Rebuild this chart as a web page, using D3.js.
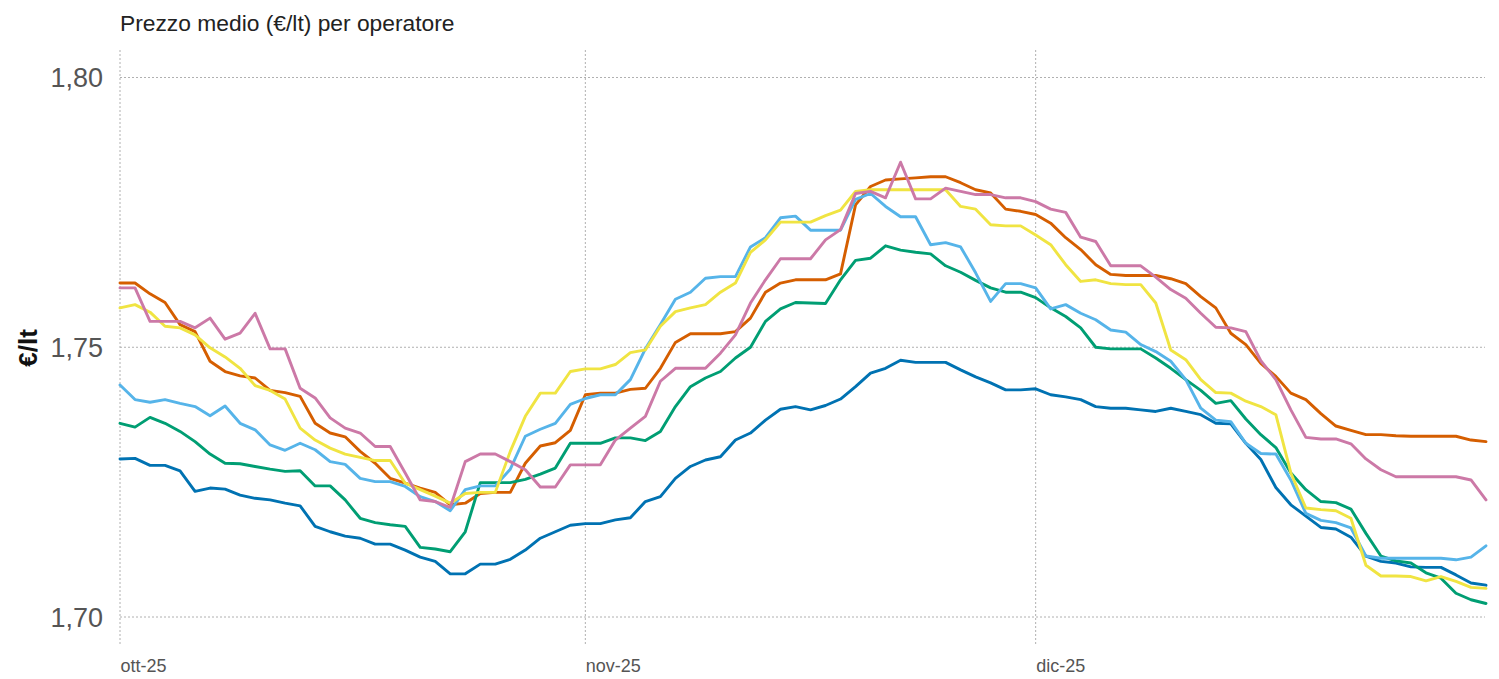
<!DOCTYPE html>
<html>
<head>
<meta charset="utf-8">
<script src="https://cdn.jsdelivr.net/npm/d3@7"></script>
<style>
  html, body { margin: 0; padding: 0; background: #fff; }
  svg { display: block; font-family: Arial, "Liberation Sans", sans-serif; }
</style>
</head>
<body>
<svg id="chart" width="1499" height="679"></svg>
<script>
// ---- data ----
const startDate = "2025-10-01";
const endDate = "2025-12-31";
const yTicks = [1.70, 1.75, 1.80];
const xTickDates = ["2025-10-01", "2025-11-01", "2025-12-01"];
const xTickLabels = ["ott-25", "nov-25", "dic-25"];
const titleText = "Prezzo medio (€/lt) per operatore";
const yTitle = "€/lt";

const seriesNames = ["Operatore 1", "Operatore 2", "Operatore 3", "Operatore 4", "Operatore 5", "Operatore 6"];
const seriesColors = ["#0072B2", "#D55E00", "#009E73", "#56B4E9", "#F0E442", "#CC79A7"];

const blu = [1.7293,1.7294,1.7281,1.7281,1.7271,1.7233,1.7239,1.7237,1.7226,1.7220,
1.7217,1.7211,1.7206,1.7168,1.7158,1.7150,1.7146,1.7135,1.7135,1.7124,
1.7111,1.7103,1.7080,1.7080,1.7098,1.7098,1.7107,1.7124,1.7146,1.7158,
1.7170,1.7173,1.7173,1.7180,1.7184,1.7214,1.7223,1.7257,1.7279,1.7291,
1.7297,1.7328,1.7341,1.7365,1.7385,1.7390,1.7384,1.7392,1.7404,1.7427,
1.7452,1.7461,1.7476,1.7472,1.7472,1.7472,1.7458,1.7445,1.7434,1.7421,
1.7421,1.7423,1.7412,1.7408,1.7403,1.7390,1.7387,1.7387,1.7384,1.7381,
1.7387,1.7381,1.7375,1.7359,1.7358,1.7322,1.7292,1.7240,1.7208,1.7187,
1.7166,1.7163,1.7148,1.7113,1.7103,1.7100,1.7093,1.7092,1.7092,1.7078,
1.7063,1.7059];

const arancione = [1.7619,1.7619,1.7599,1.7583,1.7542,1.7529,1.7474,1.7455,1.7447,1.7443,
1.7420,1.7416,1.7409,1.7359,1.7341,1.7334,1.7307,1.7285,1.7257,1.7248,
1.7239,1.7231,1.7208,1.7211,1.7229,1.7231,1.7231,1.7285,1.7317,1.7323,
1.7346,1.7412,1.7415,1.7415,1.7422,1.7424,1.7461,1.7509,1.7525,1.7525,
1.7525,1.7529,1.7554,1.7602,1.7619,1.7625,1.7625,1.7625,1.7636,1.7764,
1.7798,1.7810,1.7812,1.7814,1.7816,1.7816,1.7805,1.7792,1.7786,1.7756,
1.7752,1.7746,1.7730,1.7703,1.7681,1.7653,1.7635,1.7633,1.7633,1.7633,
1.7627,1.7618,1.7594,1.7573,1.7526,1.7505,1.7470,1.7446,1.7415,1.7403,
1.7377,1.7354,1.7346,1.7338,1.7338,1.7336,1.7335,1.7335,1.7335,1.7335,
1.7328,1.7325];

const verde = [1.7359,1.7352,1.7370,1.7359,1.7344,1.7325,1.7302,1.7285,1.7284,1.7279,
1.7274,1.7270,1.7271,1.7243,1.7243,1.7217,1.7183,1.7175,1.7171,1.7168,
1.7129,1.7126,1.7121,1.7158,1.7249,1.7249,1.7249,1.7255,1.7265,1.7276,
1.7322,1.7322,1.7322,1.7332,1.7332,1.7327,1.7344,1.7390,1.7427,1.7443,
1.7455,1.7480,1.7500,1.7548,1.7571,1.7583,1.7582,1.7581,1.7625,1.7661,
1.7665,1.7688,1.7680,1.7676,1.7673,1.7651,1.7639,1.7624,1.7610,1.7602,
1.7602,1.7592,1.7573,1.7557,1.7536,1.7500,1.7497,1.7497,1.7497,1.7480,
1.7461,1.7440,1.7420,1.7396,1.7401,1.7367,1.7338,1.7314,1.7267,1.7236,
1.7214,1.7212,1.7200,1.7155,1.7113,1.7104,1.7100,1.7082,1.7072,1.7044,
1.7032,1.7025];

const azzurro = [1.7430,1.7403,1.7398,1.7403,1.7396,1.7390,1.7373,1.7391,1.7359,1.7347,
1.7319,1.7309,1.7322,1.7310,1.7288,1.7283,1.7257,1.7251,1.7251,1.7242,
1.7223,1.7214,1.7197,1.7236,1.7243,1.7243,1.7274,1.7335,1.7348,1.7359,
1.7394,1.7405,1.7412,1.7412,1.7440,1.7497,1.7542,1.7589,1.7602,1.7628,
1.7631,1.7631,1.7686,1.7703,1.7740,1.7743,1.7717,1.7717,1.7717,1.7774,
1.7785,1.7761,1.7742,1.7742,1.7690,1.7694,1.7686,1.7638,1.7585,1.7618,
1.7618,1.7610,1.7571,1.7579,1.7563,1.7551,1.7532,1.7528,1.7505,1.7492,
1.7474,1.7440,1.7387,1.7365,1.7362,1.7322,1.7303,1.7302,1.7254,1.7192,
1.7179,1.7175,1.7165,1.7113,1.7109,1.7109,1.7109,1.7109,1.7109,1.7106,
1.7111,1.7132];

const giallo = [1.7573,1.7579,1.7565,1.7539,1.7536,1.7523,1.7499,1.7482,1.7461,1.7429,
1.7420,1.7404,1.7350,1.7328,1.7313,1.7302,1.7296,1.7290,1.7290,1.7248,
1.7236,1.7224,1.7211,1.7229,1.7231,1.7231,1.7307,1.7372,1.7415,1.7415,
1.7455,1.7460,1.7460,1.7468,1.7490,1.7495,1.7539,1.7566,1.7573,1.7579,
1.7602,1.7619,1.7676,1.7699,1.7732,1.7732,1.7732,1.7744,1.7754,1.7789,
1.7792,1.7792,1.7792,1.7792,1.7792,1.7792,1.7761,1.7756,1.7727,1.7725,
1.7725,1.7708,1.7690,1.7653,1.7622,1.7625,1.7618,1.7616,1.7616,1.7582,
1.7495,1.7477,1.7440,1.7416,1.7415,1.7400,1.7390,1.7375,1.7267,1.7202,
1.7199,1.7197,1.7183,1.7096,1.7076,1.7076,1.7075,1.7067,1.7075,1.7066,
1.7055,1.7053];

const rosa = [1.7610,1.7610,1.7548,1.7548,1.7548,1.7536,1.7554,1.7515,1.7526,1.7563,
1.7497,1.7497,1.7424,1.7406,1.7369,1.7350,1.7341,1.7316,1.7316,1.7267,
1.7217,1.7214,1.7203,1.7288,1.7302,1.7302,1.7288,1.7273,1.7241,1.7241,
1.7282,1.7282,1.7282,1.7328,1.7350,1.7372,1.7437,1.7461,1.7461,1.7461,
1.7489,1.7523,1.7582,1.7625,1.7664,1.7664,1.7664,1.7699,1.7718,1.7785,
1.7789,1.7777,1.7843,1.7775,1.7775,1.7795,1.7789,1.7783,1.7783,1.7777,
1.7777,1.7770,1.7756,1.7750,1.7704,1.7696,1.7651,1.7651,1.7651,1.7630,
1.7607,1.7591,1.7563,1.7537,1.7536,1.7529,1.7475,1.7440,1.7384,1.7333,
1.7330,1.7330,1.7321,1.7293,1.7273,1.7260,1.7260,1.7260,1.7260,1.7260,
1.7254,1.7217];

const seriesValues = [blu, arancione, verde, azzurro, giallo, rosa];

// ---- chart ----
(function () {
  const parse = d3.utcParse("%Y-%m-%d");
  const t0 = parse(startDate), t1 = parse(endDate);
  const dates = d3.utcDay.range(t0, d3.utcDay.offset(t1, 1));

  const svg = d3.select("#chart");
  const pLeft = 120, pRight = 1486, pTop = 77.5, pBottom = 617;

  const x = d3.scaleUtc().domain([t0, t1]).range([pLeft, pRight]);
  const y = d3.scaleLinear().domain([1.70, 1.80]).range([pBottom, pTop]);

  const gridColor = "#b0b0b0";

  // horizontal grid
  svg.append("g").selectAll("line").data(yTicks).join("line")
    .attr("x1", pLeft).attr("x2", pRight - 1)
    .attr("y1", d => y(d)).attr("y2", d => y(d))
    .attr("stroke", gridColor).attr("stroke-width", 1)
    .attr("stroke-dasharray", "2,2");

  // vertical grid
  svg.append("g").selectAll("line").data(xTickDates).join("line")
    .attr("x1", d => x(parse(d))).attr("x2", d => x(parse(d)))
    .attr("y1", 50).attr("y2", 645)
    .attr("stroke", gridColor).attr("stroke-width", 1)
    .attr("stroke-dasharray", "2,2");

  // y tick labels
  const yAxis = d3.axisLeft(y).tickValues(yTicks).tickSize(0).tickPadding(0)
    .tickFormat(d => d3.format(".2f")(d).replace(".", ","));
  const gy = svg.append("g").attr("transform", "translate(103,0)").call(yAxis);
  gy.select(".domain").remove();
  gy.selectAll("text").attr("font-size", 27).attr("fill", "#555")
    .attr("font-family", "Arial, 'Liberation Sans', sans-serif").attr("dy", "0.35em");

  // x tick labels
  const xAxis = d3.axisBottom(x).tickValues(xTickDates.map(parse)).tickSize(0).tickPadding(0)
    .tickFormat((d, i) => xTickLabels[i]);
  const gx = svg.append("g").attr("transform", "translate(0,672)").call(xAxis);
  gx.select(".domain").remove();
  gx.selectAll("text").attr("font-size", 18).attr("fill", "#555")
    .attr("font-family", "Arial, 'Liberation Sans', sans-serif")
    .attr("text-anchor", "start").attr("dy", 0).attr("dx", 0).attr("y", 0);

  // lines
  const line = d3.line().x((d, i) => x(dates[i])).y(d => y(d));
  svg.append("g").selectAll("path").data(seriesValues).join("path")
    .attr("d", d => line(d))
    .attr("fill", "none")
    .attr("stroke", (d, i) => seriesColors[i])
    .attr("stroke-width", 2.9)
    .attr("stroke-linejoin", "round")
    .attr("stroke-linecap", "round");

  // title
  svg.append("text").attr("x", 120).attr("y", 31)
    .attr("font-size", 22.8).attr("fill", "#222").text(titleText);

  // y title
  svg.append("text")
    .attr("transform", "translate(37,348) rotate(-90)")
    .attr("text-anchor", "middle")
    .attr("font-size", 26).attr("font-weight", "bold").attr("fill", "#111")
    .text(yTitle);
})();
</script>
</body>
</html>
